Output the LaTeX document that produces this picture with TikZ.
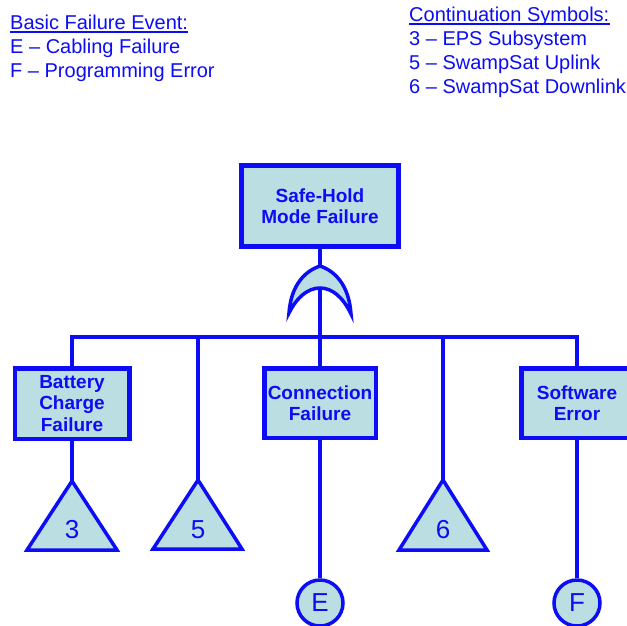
\documentclass[tikz,border=0pt]{standalone}
\usepackage{fontspec}
\setmainfont{Liberation Sans}
\definecolor{ftblue}{RGB}{12,12,245}
\definecolor{ftfill}{RGB}{186,222,226}
\tikzset{
  event/.style={draw=ftblue, fill=ftfill, line width=4.5pt, text=ftblue,
    font=\bfseries\fontsize{19}{21.5}\selectfont, align=center, inner sep=0pt},
  wire/.style={draw=ftblue, line width=3.5pt, line join=miter},
  transfer/.style={draw=ftblue, fill=ftfill, line width=3.5pt, line join=miter},
  gate/.style={draw=ftblue, fill=ftfill, line width=3.5pt, line join=miter},
  symlabel/.style={text=ftblue, font=\fontsize{26}{26}\selectfont, inner sep=0pt},
  basic/.style={circle, draw=ftblue, fill=ftfill, line width=3.5pt,
    minimum size=46pt, inner sep=0pt, text=ftblue, font=\fontsize{26}{26}\selectfont},
  legend/.style={text=ftblue, font=\fontsize{20}{24}\selectfont,
    anchor=base west, inner sep=0pt},
  uline/.style={draw=ftblue, line width=1.1pt},
}
\begin{document}
\begin{tikzpicture}[x=1pt, y=-1pt]
\useasboundingbox (0,0) rectangle (627,625);
\clip (0,0) rectangle (627,625);

% legends
\node[legend] (bh) at (10,29) {Basic Failure Event:};
\node[legend] (be) at (10,53) {E -- Cabling Failure};
\node[legend] (bf) at (10,77) {F -- Programming Error};
\draw[uline] ([yshift=-3pt]bh.base west) -- ([yshift=-3pt]bh.base east);

\node[legend] (ch) at (409,21) {Continuation Symbols:};
\node[legend] (c3) at (409,45) {3 -- EPS Subsystem};
\node[legend] (c5) at (409,69) {5 -- SwampSat Uplink};
\node[legend] (c6) at (409,93) {6 -- SwampSat Downlink};
\draw[uline] ([yshift=-3pt]ch.base west) -- ([yshift=-3pt]ch.base east);

% events
\node[event, minimum width=157pt, minimum height=81pt] (top) at (320,206)
  {Safe-Hold\\Mode Failure};
\node[event, minimum width=114.5pt, minimum height=70.5pt] (bat) at (72,403.5)
  {Battery\\Charge\\Failure};
\node[event, minimum width=111.5pt, minimum height=69.5pt] (conn) at (320,403)
  {Connection\\Failure};
\node[event, minimum width=111.5pt, minimum height=69.5pt] (sw) at (577,403)
  {Software\\Error};

% OR gate
\coordinate (gtop) at (320,266);
\coordinate (gbot) at (320,288);
\path[gate] (289,313) .. controls (291,285) and (305,271) .. (gtop)
  .. controls (335,271) and (349,285) .. (351,314)
  .. controls (343,297) and (332,288) .. (gbot)
  .. controls (308,288) and (297,297) .. (289,313) -- cycle;

% transfer triangles
\coordinate (t3) at (72,481);
\coordinate (t5) at (198,480);
\coordinate (t6) at (443,480);
\path[transfer] (t3) -- (27,550) -- (117,550) -- cycle;
\path[transfer] (t5) -- (153,549) -- (242,549) -- cycle;
\path[transfer] (t6) -- (399,550) -- (487,550) -- cycle;
\node[symlabel] (l3) at (72,530) {3};
\node[symlabel] (l5) at (198,530) {5};
\node[symlabel] (l6) at (443,530) {6};

% basic events
\node[basic] (ce) at (320,603) {E};
\node[basic] (cf) at (577,603) {F};

% connectors
\coordinate (j1) at (72,337);
\coordinate (j2) at (198,337);
\coordinate (j3) at (320,337);
\coordinate (j4) at (443,337);
\coordinate (j5) at (577,337);
\draw[wire] (top.south) -- (gtop);
\draw[wire] (gbot) -- (j3);
\draw[wire] (bat.north) -- (j1) -- (j5) -- (sw.north);
\draw[wire] (j2) -- (t5);
\draw[wire] (j3) -- (conn.north);
\draw[wire] (j4) -- (t6);
\draw[wire] (bat.south) -- (t3);
\draw[wire] (conn.south) -- (ce.north);
\draw[wire] (sw.south) -- (cf.north);
\end{tikzpicture}
\end{document}
